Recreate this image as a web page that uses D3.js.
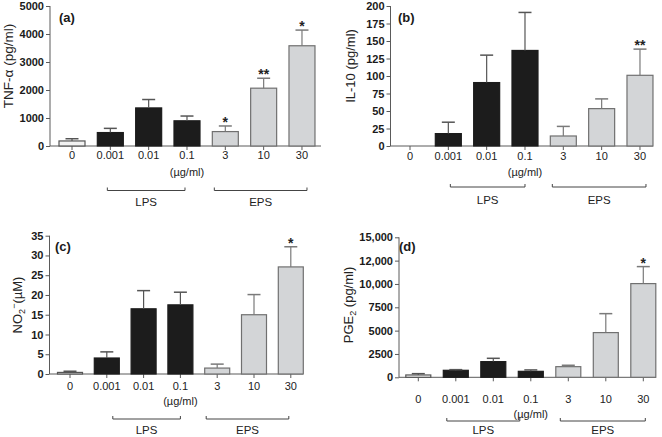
<!DOCTYPE html>
<html><head><meta charset="utf-8">
<script src="https://cdn.jsdelivr.net/npm/d3@7"></script>
<style>
html,body{margin:0;padding:0;background:#fff;}
svg{display:block;font-family:"Liberation Sans",Arial,sans-serif;}
</style></head>
<body><svg id="chart" width="662" height="437"></svg>
<script>
// ---------- data ----------
const categories = ["0", "0.001", "0.01", "0.1", "3", "10", "30"];
const groups = ["ctrl", "LPS", "LPS", "LPS", "EPS", "EPS", "EPS"];

const tnfMean = [180, 480, 1360, 900, 515, 2065, 3580];
const tnfErr  = [80, 150, 300, 170, 200, 355, 560];
const tnfStars = ["", "", "", "", "*", "**", "*"];
const tnfTicks = [0, 1000, 2000, 3000, 4000, 5000];
const tnfTickLabels = ["0", "1000", "2000", "3000", "4000", "5000"];

const il10Mean = [0, 17.7, 90.6, 136.5, 14.3, 53.4, 101];
const il10Err  = [0, 16.3, 39.2, 54.3, 13.7, 13.9, 37.4];
const il10Stars = ["", "", "", "", "", "", "**"];
const il10Ticks = [0, 25, 50, 75, 100, 125, 150, 175, 200];
const il10TickLabels = ["0", "25", "50", "75", "100", "125", "150", "175", "200"];

const no2Mean = [0.4, 4.05, 16.5, 17.5, 1.5, 15.0, 27.1];
const no2Err  = [0.3, 1.55, 4.6, 3.2, 1.0, 5.1, 5.1];
const no2Stars = ["", "", "", "", "", "", "*"];
const no2Ticks = [0, 5, 10, 15, 20, 25, 30, 35];
const no2TickLabels = ["0", "5", "10", "15", "20", "25", "30", "35"];

const pgeMean = [250, 750, 1680, 640, 1140, 4790, 10040];
const pgeErr  = [140, 70, 355, 150, 150, 2030, 1820];
const pgeStars = ["", "", "", "", "", "", "*"];
const pgeTicks = [0, 2500, 5000, 7500, 10000, 12500, 15000];
const pgeTickLabels = ["0", "2500", "5000", "7500", "10,000", "12,000", "15,000"];

const unitLabel = "(\u00b5g/ml)";
const groupLabels = ["LPS", "EPS"];

// ---------- styles ----------
const fills = {ctrl: "#f2f2f2", LPS: "#1c1c1c", EPS: "#d3d5d7"};
const strokes = {ctrl: "#555", LPS: "#1c1c1c", EPS: "#707070"};
const axisColor = "#5a5a5a";

const svg = d3.select("#chart");

function panel(cfg) {
  const g = svg.append("g");
  const y = d3.scaleLinear().domain(cfg.domain).range([cfg.y0, cfg.yTop]);
  const x = d3.scaleBand().domain(categories)
    .range([cfg.c0 - cfg.step / 2, cfg.c0 + cfg.step * 6.5])
    .paddingInner(1 - cfg.barW / cfg.step).paddingOuter((1 - cfg.barW / cfg.step) / 2);
  const cx = c => x(c) + x.bandwidth() / 2;

  // y axis
  const yAxis = d3.axisLeft(y).tickValues(cfg.ticks)
    .tickFormat((d, i) => cfg.tickLabels[i]).tickSize(4).tickPadding(2);
  const ya = g.append("g").attr("transform", `translate(${cfg.ax},0)`).call(yAxis);
  ya.select(".domain").attr("stroke", axisColor).attr("d", `M0,${cfg.y0}V${cfg.yTop}`);
  ya.selectAll(".tick line").attr("stroke", axisColor);
  ya.selectAll(".tick text").attr("font-size", 11).attr("font-weight", "bold").attr("fill", "#1a1a1a");

  // x axis
  g.append("line").attr("x1", cfg.ax).attr("x2", cfg.axEnd)
    .attr("y1", cfg.y0).attr("y2", cfg.y0).attr("stroke", axisColor);
  categories.forEach((c, i) => {
    g.append("line").attr("x1", cx(c)).attr("x2", cx(c))
      .attr("y1", cfg.y0).attr("y2", cfg.y0 + 4).attr("stroke", axisColor);
    g.append("text").attr("x", cx(c)).attr("y", cfg.labY).attr("text-anchor", "middle")
      .attr("font-size", 11).attr("fill", "#222").text(c);
  });
  g.append("text").attr("x", cx("0.1")).attr("y", cfg.unitY).attr("text-anchor", "middle")
    .attr("font-size", 11).attr("fill", "#222").text(unitLabel);

  // bars
  const bw = cfg.barW;
  cfg.mean.forEach((m, i) => {
    const c = categories[i], gr = groups[i];
    if (m > 0) {
      g.append("rect").attr("x", cx(c) - bw / 2).attr("width", bw)
        .attr("y", y(m)).attr("height", Math.max(y(0) - y(m), 1))
        .attr("fill", fills[gr]).attr("stroke", strokes[gr]).attr("stroke-width", 1.2);
    }
    const e = cfg.err[i];
    if (e > 0) {
      const col = gr === "EPS" ? "#7a7a7a" : "#555";
      g.append("line").attr("x1", cx(c)).attr("x2", cx(c)).attr("y1", y(m)).attr("y2", y(m + e))
        .attr("stroke", col).attr("stroke-width", 1.2);
      g.append("line").attr("x1", cx(c) - 6.5).attr("x2", cx(c) + 6.5).attr("y1", y(m + e)).attr("y2", y(m + e))
        .attr("stroke", col).attr("stroke-width", 1.5);
    }
    if (cfg.stars[i]) {
      g.append("text").attr("x", cx(c)).attr("y", y(m + e) + 1).attr("text-anchor", "middle")
        .attr("font-size", 14).attr("font-weight", "bold").attr("fill", "#222").text(cfg.stars[i]);
    }
  });

  // group brackets
  cfg.brackets.forEach((b, k) => {
    const x1 = cx(categories[b[0]]) + b[2], x2 = cx(categories[b[1]]) + b[3];
    g.append("path").attr("d", `M${x1},${cfg.brY - 3}V${cfg.brY}H${x2}V${cfg.brY - 3}`)
      .attr("fill", "none").attr("stroke", "#444").attr("stroke-width", 1);
    g.append("text").attr("x", (x1 + x2) / 2).attr("y", cfg.grY).attr("text-anchor", "middle")
      .attr("font-size", 11.5).attr("fill", "#222").text(groupLabels[k]);
  });

  // panel letter
  g.append("text").attr("x", cfg.letterX).attr("y", cfg.letterY)
    .attr("font-size", 13).attr("font-weight", "bold").attr("fill", "#1a1a1a").text(cfg.letter);

  // y title
  const t = g.append("text").attr("transform", `translate(${cfg.titleX},${cfg.titleY}) rotate(-90)`)
    .attr("text-anchor", "middle").attr("font-size", cfg.titleSize).attr("fill", "#222");
  cfg.title(t);
}

panel({
  letter: "(a)", letterX: 59, letterY: 21.5,
  domain: [0, 5000], y0: 146, yTop: 6, ticks: tnfTicks, tickLabels: tnfTickLabels,
  ax: 50, axEnd: 321, c0: 72, step: 38.33, barW: 26,
  mean: tnfMean, err: tnfErr, stars: tnfStars,
  labY: 159, unitY: 176, brY: 190.5, grY: 206,
  brackets: [[1, 3, -3, -2], [4, 6, -11, 5]],
  titleX: 12.5, titleY: 66, titleSize: 13.5,
  title: t => t.text("TNF-\u03b1 (pg/ml)")
});

panel({
  letter: "(b)", letterX: 398, letterY: 21.5,
  domain: [0, 200], y0: 146, yTop: 6, ticks: il10Ticks, tickLabels: il10TickLabels,
  ax: 390.5, axEnd: 653, c0: 410, step: 38.33, barW: 26,
  mean: il10Mean, err: il10Err, stars: il10Stars,
  labY: 160, unitY: 176, brY: 187, grY: 204,
  brackets: [[1, 3, 2, 0], [4, 6, -11, 6]],
  titleX: 355, titleY: 66, titleSize: 13,
  title: t => t.text("IL-10 (pg/ml)")
});

panel({
  letter: "(c)", letterX: 55, letterY: 250.5,
  domain: [0, 35], y0: 374, yTop: 235.7, ticks: no2Ticks, tickLabels: no2TickLabels,
  ax: 49.5, axEnd: 303, c0: 70, step: 36.8, barW: 25,
  mean: no2Mean, err: no2Err, stars: no2Stars,
  labY: 390, unitY: 405, brY: 419, grY: 433.5,
  brackets: [[1, 3, 6, 0], [4, 6, -11, -2]],
  titleX: 22, titleY: 305, titleSize: 13,
  title: t => {
    t.append("tspan").text("NO");
    t.append("tspan").attr("font-size", 9).attr("dy", 3).text("2");
    t.append("tspan").attr("font-size", 9).attr("dy", -8).text("\u2212");
    t.append("tspan").attr("dy", 5).text("(\u00b5M)");
  }
});

panel({
  letter: "(d)", letterX: 399, letterY: 251,
  domain: [0, 15000], y0: 377.3, yTop: 237.3, ticks: pgeTicks, tickLabels: pgeTickLabels,
  ax: 399, axEnd: 656, c0: 418.3, step: 37.5, barW: 25,
  mean: pgeMean, err: pgeErr, stars: pgeStars,
  labY: 403, unitY: 418, brY: 421, grY: 433.5,
  brackets: [[1, 3, -9, -11], [4, 6, -8, 2]],
  titleX: 353, titleY: 305, titleSize: 13,
  title: t => {
    t.append("tspan").text("PGE");
    t.append("tspan").attr("font-size", 9).attr("dy", 3).text("2");
    t.append("tspan").attr("dy", -3).text(" (pg/ml)");
  }
});
</script>
</body></html>
